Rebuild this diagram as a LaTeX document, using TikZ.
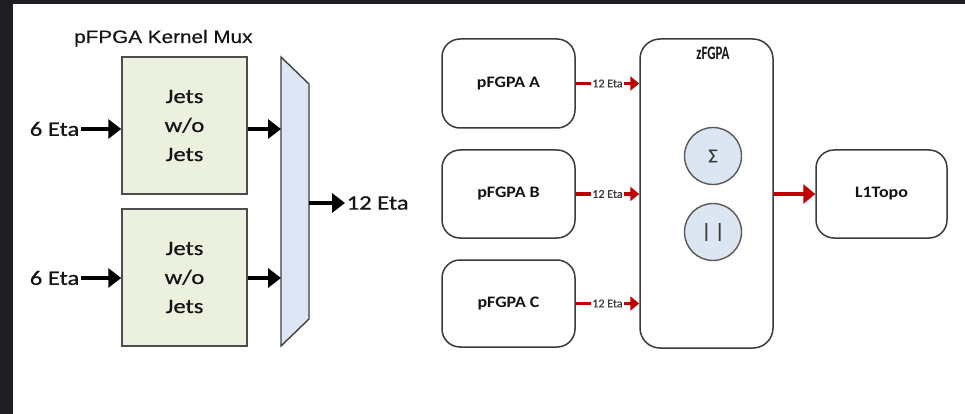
\documentclass[tikz,border=0pt]{standalone}
\usepackage{fontspec}
\usepackage{graphicx}
\setmainfont{Carlito}
\newfontfamily\heavyfont{Carlito}[FakeBold=0.6]
\newfontfamily\arialfont{Liberation Sans}[FakeBold=0.3]
\usetikzlibrary{arrows.meta,calc}
\definecolor{darkbg}{HTML}{1C1E22}
\definecolor{jetfill}{HTML}{EBF1DE}
\definecolor{jetdraw}{HTML}{4D4D4D}
\definecolor{muxfill}{HTML}{DCE6F4}
\definecolor{muxdraw}{HTML}{404040}
\definecolor{circfill}{HTML}{DCE6F2}
\definecolor{circdraw}{HTML}{595959}
\definecolor{redc}{HTML}{C00000}
\definecolor{txt}{HTML}{141414}
\definecolor{boxdraw}{HTML}{3A3A3A}
\newcommand\hx[1]{\scalebox{1.2}[1]{#1}}
\begin{document}
\begin{tikzpicture}[x=1pt,y=-1pt,
  jetbox/.style={draw=jetdraw, line width=1.5pt, fill=jetfill, minimum width=125pt, minimum height=137pt, align=center, text=txt, inner sep=0pt, font=\heavyfont\fontsize{20.5}{29}\selectfont},
  rbox/.style={draw=boxdraw, line width=1.5pt, fill=white, rounded corners=18pt, text=txt, inner sep=0pt, font=\bfseries\fontsize{16}{18}\selectfont},
  circ/.style={circle, draw=circdraw, line width=1.4pt, fill=circfill, minimum size=57pt, inner sep=0pt, text=boxdraw, font=\heavyfont\fontsize{20}{22}\selectfont},
  etalbl/.style={inner sep=1.5pt, text=txt, font=\heavyfont\fontsize{20.5}{22}\selectfont},
  blk/.style={line width=3.8pt, draw=black, -{Triangle[length=13pt,width=19pt]}},
  redarr/.style={line width=3.8pt, draw=redc, -{Triangle[length=9pt,width=14pt]}},
  redbig/.style={line width=4.5pt, draw=redc, -{Triangle[length=12pt,width=19pt]}},
  lbl/.style={fill=white, inner sep=1pt, text=boxdraw, font=\heavyfont\fontsize{12}{13}\selectfont},
  muxst/.style={draw=muxdraw, line width=1.4pt, fill=muxfill}
]
\useasboundingbox (0,0) rectangle (965,414);
\fill[white] (0,0) rectangle (965,414);
\fill[darkbg] (0,0) rectangle (13,414);
\fill[darkbg] (0,0) rectangle (965,4);

% left part
\node[anchor=base west, inner sep=0pt, text=txt, font=\arialfont\fontsize{18}{20}\selectfont] (title) at (74,43) {\scalebox{1.15}[1]{pFPGA Kernel Mux}};
\node[jetbox] (jet1) at (184.5,125.5) {\hx{Jets}\\\hx{w/o}\\\hx{Jets}};
\node[jetbox] (jet2) at (184.5,277.5) {\hx{Jets}\\\hx{w/o}\\\hx{Jets}};
\draw[muxst] (281,57) coordinate (mTL) -- (309,84) coordinate (mTR) -- (309,319) coordinate (mBR) -- (281,346) coordinate (mBL) -- cycle;
\coordinate (mR) at (309,203);
\node[etalbl, anchor=east] (e1) at (81,129) {\hx{6 Eta}};
\node[etalbl, anchor=east] (e2) at (81,278) {\hx{6 Eta}};
\node[etalbl, anchor=west] (o12) at (345,203) {\hx{12 Eta}};
\draw[blk] (e1.east) -- (jet1.west |- e1.east);
\draw[blk] (e2.east) -- (jet2.west |- e2.east);
\draw[blk] (jet1.east |- e1.east) -- (mTL |- e1.east);
\draw[blk] (jet2.east |- e2.east) -- (mTL |- e2.east);
\draw[blk] (mR) -- (o12.west);

% right part
\node[rbox, minimum width=133pt, minimum height=89pt] (pa) at (508.5,83.5) {\scalebox{1.12}[1]{pFGPA A}};
\node[rbox, minimum width=133pt, minimum height=88pt] (pb) at (508.5,194) {\scalebox{1.12}[1]{pFGPA B}};
\node[rbox, minimum width=133pt, minimum height=87pt] (pc) at (508.5,303.5) {\scalebox{1.12}[1]{pFGPA C}};
\node[rbox, rounded corners=20pt, minimum width=133pt, minimum height=309pt] (zf) at (706.5,193.5) {};
\node[anchor=base, inner sep=0pt, text=txt, font=\bfseries\fontsize{19}{20}\selectfont] (zft) at (713,60) {\scalebox{0.68}[1]{zFGPA}};
\node[circ] (sum) at (713,156) {Σ};
\node[circ] (abs) at (713,232) {|\hspace{4pt}|};
\node[rbox, minimum width=131pt, minimum height=88pt] (l1) at (881.5,194) {\scalebox{1.12}[1]{L1Topo}};
\draw[redarr] (pa.east) -- (pa.east -| zf.west) node[midway, lbl] {12 Eta};
\draw[redarr] (pb.east) -- (pb.east -| zf.west) node[midway, lbl] {12 Eta};
\draw[redarr] (pc.east) -- (pc.east -| zf.west) node[midway, lbl] {12 Eta};
\draw[redbig] (zf.east |- l1.west) -- (l1.west);
\end{tikzpicture}
\end{document}
